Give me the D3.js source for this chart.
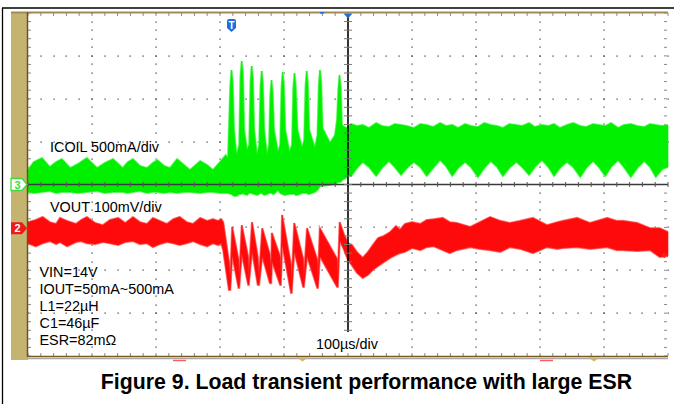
<!DOCTYPE html>
<html><head><meta charset="utf-8">
<script src="https://cdn.jsdelivr.net/npm/d3@7"></script>
<style>
html,body{margin:0;padding:0;background:#fff;}
svg{display:block;}
text{font-family:Arial,"Liberation Sans",Helvetica,sans-serif;}
</style></head><body>
<svg id="c" width="674" height="404"></svg>
<script>
// ---------- axis ranges (10 div x 100 µs, 8 div vertical) ----------
const timeRange = [-500, 500];      // µs, 100 µs/div
const divRange = [-4, 4];           // graticule divisions
const icoilRange = [-2000, 2000];   // mA, 500 mA/div (ch3 ground at centre)
const voutRange = [-298, 502];      // mV, 100 mV/div relative to ch2 marker

// ---------- ICOIL (channel 3) envelope ----------
const icoilT = [-500,-491,-478,-466,-456,-447,-434,-422,-408,-392,-380,-367,-352,-344,-336,-325,-314,-305,-298,-287,-278,-267,-256,-247,-231,-220,-211,-200,-191,
  -187.5,-183.9,-182,-180.2,-178.1,-174.2,
  -170,-168,-166.1,-164.2,-162.2,-157.8,
  -154.4,-152.3,-150.5,-148.6,-146.6,-142.2,
  -138.8,-136.7,-134.8,-133,-130.9,-126.6,
  -123.4,-121.4,-119.5,-117.7,-115.6,-109.4,
  -105.9,-103.9,-102,-100.2,-98.1,-91.4,
  -87.5,-85.5,-83.6,-81.7,-78.9,-71.9,
  -68.4,-66.4,-64.5,-62.7,-60.6,-51.6,
  -47.7,-45.6,-43.8,-41.9,-39.8,-28.1,-20.3,
  -17.2,-15.2,-13.3,-11.4,-9.4,-3.1,
  0,5,14,23,33,44,53,64,73,83,92,103,113,123,133,144,153,163,172,183,192,203,213,223,233,242,252,263,272,283,292,303,313,322,331,342,352,363,372,383,392,402,411,422,431,442,452,463,472,481,491,500];
const icoilHi = [169,262,309,204,262,297,192,239,309,192,251,297,192,262,297,216,192,251,286,216,192,297,227,169,274,227,169,262,344,
  309,1160,1335,1195,635,344,
  461,1265,1440,1300,635,402,
  461,1207,1382,1242,635,344,
  461,1148,1323,1183,635,344,
  461,1044,1218,1079,635,379,
  461,1137,1312,1172,635,379,
  461,1125,1300,1160,635,426,
  519,1148,1323,1183,635,426,
  577,1160,1335,1195,659,484,577,
  752,1102,1277,1137,694,659,
  670,705,682,694,659,717,682,670,705,694,682,659,705,694,670,717,682,694,659,705,682,670,717,694,682,659,705,694,682,717,670,694,682,705,659,694,717,682,670,705,694,682,717,659,694,705,682,670,705,694,682,694];
const icoilLo = [-87,-99,-87,-76,-99,-87,-87,-99,-87,-76,-99,-87,-87,-99,-87,-76,-99,-87,-87,-99,-87,-99,-87,-87,-99,-87,-87,-99,-99,
  -99,-111,-111,-122,-134,-134,
  -111,-111,-111,-99,-111,-122,
  -99,-99,-99,-111,-111,-122,
  -111,-99,-99,-111,-122,-111,
  -99,-99,-99,-111,-111,-64,
  -99,-111,-111,-122,-122,-111,
  -111,-111,-111,-122,-122,-99,
  -99,-99,-99,-111,-111,-87,
  -64,-41,-17,-17,-17,-6,6,
  17,29,29,29,52,76,
  111,99,192,262,204,99,192,274,204,111,192,262,204,99,192,286,216,99,192,262,204,87,192,274,204,99,192,262,204,111,204,286,204,99,192,262,204,87,192,274,204,99,204,286,204,87,192,274,204,87,180,204];

// ---------- VOUT (channel 2) envelope ----------
const voutT = [-500,-488,-477,-466,-456,-450,-439,-425,-417,-408,-395,-383,-372,-359,-348,-336,-325,-314,-305,-294,-283,-273,-263,-252,-242,-231,-220,-211,-203,-198,
  -195,-186,-184,
  -181,-171,-170,
  -166,-156,-155,
  -150,-141,-139,
  -134,-122,-120,
  -119,-106,-105,
  -103,-89,-88,
  -84,-70,-69,
  -64,-48,-47,
  -44,-17,-16,
  -13,-6,
  0,6,14,23,31,39,47,56,66,75,81,89,100,113,123,134,
  148,159,170,191,206,222,238,253,269,289,311,327,336,358,378,405,420,430,452,472,487,500];
const voutHi = [14,19,26,14,10,24,17,10,19,26,12,7,19,24,12,26,14,10,24,17,10,21,26,14,10,24,17,21,17,21,
  14,-79,-125,
  3,-74,-121,
  7,-67,-114,
  14,-67,-114,
  0,-62,-109,
  -11,-67,-114,
  31,-86,-132,
  12,-72,-118,
  0,-74,-121,
  0,-72,-118,
  14,-16,
  -35,-39,-56,-69,-56,-39,-23,-18,-9,5,-4,10,14,10,19,21,
  24,14,12,3,14,26,17,12,17,24,7,14,17,24,12,24,17,17,12,0,0,-9];
const voutLo = [-35,-42,-35,-30,-37,-32,-42,-32,-30,-35,-37,-32,-35,-39,-32,-30,-37,-35,-44,-37,-32,-35,-39,-35,-30,-37,-42,-35,-39,-35,
  -51,-144,-144,
  -62,-139,-139,
  -58,-132,-132,
  -51,-132,-132,
  -65,-128,-128,
  -76,-132,-132,
  -35,-151,-151,
  -53,-137,-137,
  -65,-139,-139,
  -65,-137,-137,
  -28,-51,
  -74,-86,-104,-116,-109,-97,-88,-79,-69,-62,-58,-55,-46,-51,-44,-42,
  -51,-58,-51,-44,-48,-51,-55,-44,-48,-58,-44,-48,-46,-44,-48,-44,-51,-51,-53,-51,-67,-65];

// ---------- text ----------
const ch3Label = "ICOIL 500mA/div";
const ch2Label = "VOUT 100mV/div";
const condLines = ["VIN=14V", "IOUT=50mA~500mA", "L1=22µH", "C1=46µF", "ESR=82mΩ"];
const timebaseLabel = "100µs/div";
const caption = "Figure 9. Load transient performance with large ESR";

// ---------- layout ----------
const svg = d3.select("#c");
const X0 = 28, X1 = 668, Y0 = 13, Y1 = 356;
const x = d3.scaleLinear().domain(timeRange).range([X0, X1]);
const yd = d3.scaleLinear().domain(divRange).range([Y1, Y0]);
const yI = d3.scaleLinear().domain(icoilRange).range([Y1, Y0]);
const yV = d3.scaleLinear().domain(voutRange).range([Y1, Y0]);

// outer frame lines
svg.append("line").attr("x1",2).attr("x2",674).attr("y1",8).attr("y2",8).attr("stroke","#000").attr("stroke-width",1.3);
svg.append("line").attr("x1",2.5).attr("x2",2.5).attr("y1",8).attr("y2",404).attr("stroke","#000").attr("stroke-width",1.3);

// tan side strip
svg.append("rect").attr("x",11).attr("y",12).attr("width",17).attr("height",348).attr("fill","#c5b46f");

// grid
const g = svg.append("g");
const minorX = d3.range(-500, 501, 20);
const minorY = d3.range(-4, 4.001, 0.2);
const majorX = d3.range(-400, 401, 100).filter(v => v !== 0);
const majorY = d3.range(-3, 3.001, 1).filter(v => v !== 0);
majorX.forEach(t => {
  minorY.forEach(d => {
    g.append("rect").attr("x", Math.round(x(t))-0.5).attr("y", Math.round(yd(d))-0.5).attr("width",1.2).attr("height",1.2).attr("fill","#333");
  });
});
majorY.forEach(d => {
  minorX.forEach(t => {
    g.append("rect").attr("x", Math.round(x(t))-0.5).attr("y", Math.round(yd(d))-0.5).attr("width",1.2).attr("height",1.2).attr("fill","#333");
  });
});
// edge ticks
minorX.forEach(t => {
  g.append("line").attr("x1",x(t)).attr("x2",x(t)).attr("y1",Y0).attr("y2",Y0+3).attr("stroke","#888").attr("stroke-width",1);
  g.append("line").attr("x1",x(t)).attr("x2",x(t)).attr("y1",Y1-3).attr("y2",Y1).attr("stroke","#888").attr("stroke-width",1);
});
minorY.forEach(d => {
  g.append("line").attr("x1",X0).attr("x2",X0+3).attr("y1",yd(d)).attr("y2",yd(d)).attr("stroke","#888").attr("stroke-width",1);
  g.append("line").attr("x1",X1-4).attr("x2",X1-1).attr("y1",yd(d)).attr("y2",yd(d)).attr("stroke","#888").attr("stroke-width",1);
});

// traces
function band(T, HI, LO, yScale, core, fringe) {
  const pts = T.map((t,i)=>({t, hi:HI[i], lo:LO[i]}));
  const area = d3.area().x(d=>x(d.t)).y0(d=>yScale(d.lo)).y1(d=>yScale(d.hi));
  const lineHi = d3.line().x(d=>x(d.t)).y(d=>yScale(d.hi));
  const lineLo = d3.line().x(d=>x(d.t)).y(d=>yScale(d.lo));
  svg.append("path").datum(pts).attr("d", lineHi).attr("fill","none").attr("stroke",fringe).attr("stroke-width",2.2);
  svg.append("path").datum(pts).attr("d", lineLo).attr("fill","none").attr("stroke",fringe).attr("stroke-width",2.2);
  svg.append("path").datum(pts).attr("d", area).attr("fill", core).attr("stroke",core).attr("stroke-width",0.6);
}
band(icoilT, icoilHi, icoilLo, yI, "#00f000", "#8af88a");
band(voutT, voutHi, voutLo, yV, "#ff0a0a", "#ff8080");

// centre lines
svg.append("line").attr("x1",X0).attr("x2",X1).attr("y1",yd(0)).attr("y2",yd(0)).attr("stroke","#3a3a3a").attr("stroke-width",1.3);
minorX.forEach(t => {
  svg.append("line").attr("x1",x(t)).attr("x2",x(t)).attr("y1",yd(0)-2.5).attr("y2",yd(0)+2.5).attr("stroke","#555").attr("stroke-width",1);
});
svg.append("line").attr("x1",x(0)).attr("x2",x(0)).attr("y1",16).attr("y2",332).attr("stroke","#000").attr("stroke-width",1.6);
minorY.filter(d => yd(d) > 16 && yd(d) < 332).forEach(d => {
  svg.append("line").attr("x1",x(0)-4).attr("x2",x(0)+4).attr("y1",yd(d)).attr("y2",yd(d)).attr("stroke","#777").attr("stroke-width",1);
});

// screen borders
svg.append("line").attr("x1",11).attr("x2",X1).attr("y1",12.5).attr("y2",12.5).attr("stroke","#a48a55").attr("stroke-width",2);
svg.append("line").attr("x1",27.5).attr("x2",27.5).attr("y1",12).attr("y2",357).attr("stroke","#6b5424").attr("stroke-width",1.5);
svg.append("line").attr("x1",27).attr("x2",X1).attr("y1",356.5).attr("y2",356.5).attr("stroke","#7a5a20").attr("stroke-width",1.5);
svg.append("line").attr("x1",27).attr("x2",X1).attr("y1",358.5).attr("y2",358.5).attr("stroke","#a8a8a8").attr("stroke-width",1.5);

// channel markers
const m3y = yI(0), m2y = yV(0);
svg.append("path").attr("d",`M11,${m3y-6}H22L27,${m3y}L22,${m3y+6}H11Z`).attr("fill","#fff").attr("stroke","#3ddc3d").attr("stroke-width",1.3);
svg.append("text").attr("x",17.5).attr("y",m3y+4).attr("text-anchor","middle").attr("font-size",11).attr("font-weight","bold").attr("fill","#3ddc3d").text("3");
svg.append("path").attr("d",`M11,${m2y-6}H22L27,${m2y}L22,${m2y+6}H11Z`).attr("fill","#f01818");
svg.append("text").attr("x",17.5).attr("y",m2y+4).attr("text-anchor","middle").attr("font-size",11).attr("font-weight","bold").attr("fill","#fff").text("2");

// trigger marker T
svg.append("path").attr("d","M227,21Q227,19 229,19H234Q236,19 236,21V28L231.5,32L227,28Z").attr("fill","#1c6fe0");
svg.append("text").attr("x",231.5).attr("y",28.5).attr("text-anchor","middle").attr("font-size",10).attr("font-weight","bold").attr("fill","#fff").text("T");
// trigger position triangle
svg.append("path").attr("d",`M${x(0)-4.5},13.5H${x(0)+4.5}L${x(0)},18.5Z`).attr("fill","#1c6fe0");
svg.append("rect").attr("x",320).attr("y",12).attr("width",4).attr("height",1.6).attr("fill","#1c6fe0");

// bottom markers
[[173,186],[540,553]].forEach(([a,b]) => svg.append("line").attr("x1",a).attr("x2",b).attr("y1",360.5).attr("y2",360.5).attr("stroke","#ff5a5a").attr("stroke-width",1.4));
[302.5,594].forEach(c => svg.append("path").attr("d",`M${c-5.5},357.5H${c+5.5}L${c},361.5Z`).attr("fill","#c8b46e"));
// right red arrow
svg.append("path").attr("d","M668,255H662M662,255L665,252.5M662,255L665,257.5").attr("stroke","#ff2020").attr("stroke-width",1.3).attr("fill","none");

// labels
svg.append("text").attr("x",50).attr("y",151.5).attr("font-size",14.4).attr("fill","#000").text(ch3Label);
svg.append("text").attr("x",50).attr("y",211.5).attr("font-size",14.4).attr("fill","#000").text(ch2Label);
condLines.forEach((s,i) => svg.append("text").attr("x",39.5).attr("y",277+i*17).attr("font-size",14.4).attr("fill","#000").text(s));
svg.append("text").attr("x",316).attr("y",349).attr("font-size",14.4).attr("fill","#000").text(timebaseLabel);
svg.append("text").attr("x",366.5).attr("y",388.5).attr("text-anchor","middle").attr("font-size",21.3).attr("font-weight","bold").attr("fill","#000").text(caption);
</script>
</body></html>
